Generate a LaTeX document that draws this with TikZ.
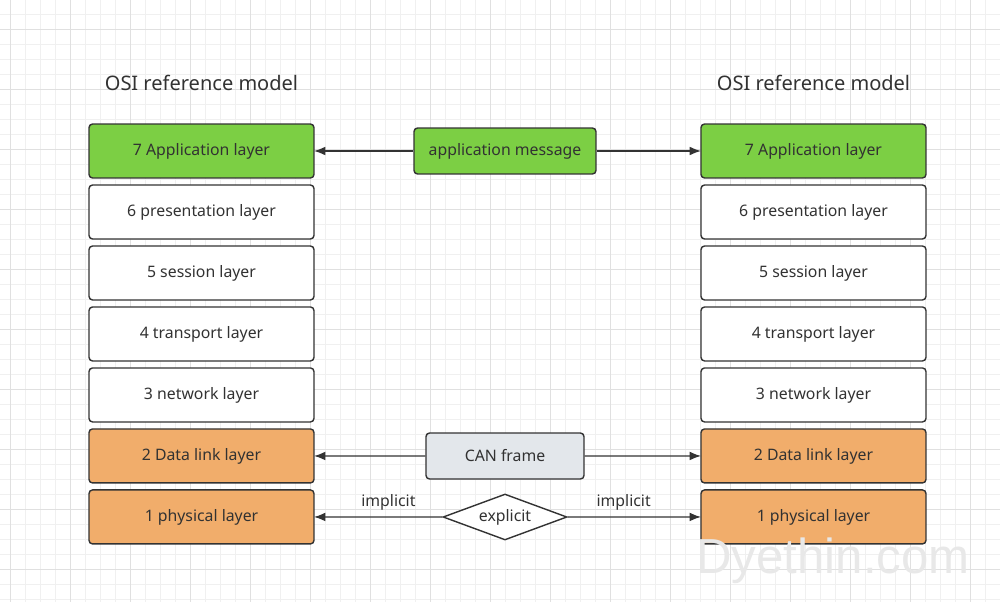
\documentclass[tikz,border=0pt]{standalone}
\usepackage{fontspec}
\setmainfont{Noto Sans}
\newfontfamily\markfont{Liberation Sans}
\usetikzlibrary{arrows.meta, positioning, shapes.geometric}
\definecolor{oGreen}{RGB}{124,207,68}
\definecolor{oOrange}{RGB}{241,173,107}
\definecolor{oGray}{RGB}{227,231,235}
\definecolor{oLine}{RGB}{51,51,51}
\definecolor{oText}{RGB}{50,50,50}
\definecolor{oMinor}{RGB}{240,240,240}
\definecolor{oMajor}{RGB}{224,224,224}

\begin{document}
\begin{tikzpicture}[
  x=0.02cm, y=-0.02cm,
  node distance=0.14cm and 0.9cm,
  box/.style={draw=oLine, line width=0.8pt, rounded corners=2pt, align=center, outer sep=0pt,
    minimum width=4.5cm, minimum height=1.08cm, inner sep=0pt, font=\small, text=oText, fill=white},
  midbox/.style={draw=oLine, line width=0.8pt, rounded corners=2pt, align=center,
    minimum height=0.92cm, inner sep=0pt, font=\small, text=oText},
  title/.style={font=\fontsize{11.4}{13}\selectfont, text=oText},
  arrow/.style={-{Latex[length=6.5pt, width=5pt]}, line width=0.8pt, oLine}
]
  \useasboundingbox (0,0) rectangle (1000,602);
  \fill[white] (0,0) rectangle (1000,602);
  % grid
  \foreach \gx in {10,25,...,1000} \draw[oMinor, line width=0.4pt] (\gx,0) -- (\gx,602);
  \foreach \gy in {14,29,...,602} \draw[oMinor, line width=0.4pt] (0,\gy) -- (1000,\gy);
  \foreach \gx in {10,70,...,1000} \draw[oMajor, line width=0.5pt] (\gx,0) -- (\gx,602);
  \foreach \gy in {29,89,...,602} \draw[oMajor, line width=0.5pt] (0,\gy) -- (1000,\gy);

  % left stack
  \node[title] (ltitle) at (201.5,83) {OSI reference model};
  \node[box, fill=oGreen] (l7) at (201.5,151) {7 Application layer};
  \node[box, below=of l7] (l6) {6 presentation layer};
  \node[box, below=of l6] (l5) {5 session layer};
  \node[box, below=of l5] (l4) {4 transport layer};
  \node[box, below=of l4] (l3) {3 network layer};
  \node[box, fill=oOrange, below=of l3] (l2) {2 Data link layer};
  \node[box, fill=oOrange, below=of l2] (l1) {1 physical layer};

  % right stack
  \node[title] (rtitle) at (813.5,83) {OSI reference model};
  \node[box, fill=oGreen] (r7) at (813.5,151) {7 Application layer};
  \node[box, below=of r7] (r6) {6 presentation layer};
  \node[box, below=of r6] (r5) {5 session layer};
  \node[box, below=of r5] (r4) {4 transport layer};
  \node[box, below=of r4] (r3) {3 network layer};
  \node[box, fill=oOrange, below=of r3] (r2) {2 Data link layer};
  \node[box, fill=oOrange, below=of r2] (r1) {1 physical layer};

  % peer protocols
  \node[midbox, fill=oGreen, minimum width=3.64cm] (msg) at (505,151) {application message};
  \node[midbox, fill=oGray, minimum width=3.16cm] (frame) at (505,456) {CAN frame};
  \node[diamond, draw=oLine, line width=0.8pt, fill=white, aspect=2.7, inner sep=1pt,
    minimum width=2.48cm, minimum height=0.92cm, font=\small, text=oText] (expl) at (505,517) {explicit};

  \draw[arrow] (msg) -- (l7);
  \draw[arrow] (msg) -- (r7);
  \draw[arrow] (frame) -- (l2);
  \draw[arrow] (frame) -- (r2);
  \draw[arrow] (expl) -- node[above, pos=0.42, font=\small, text=oText] {implicit} (l1);
  \draw[arrow] (expl) -- node[above, pos=0.42, font=\small, text=oText] {implicit} (r1);

  \node[font=\markfont\fontsize{28}{28}\selectfont, text=black!9, anchor=base, inner sep=0pt] (mark) at (833,573) {Dyethin.com};
\end{tikzpicture}
\end{document}
